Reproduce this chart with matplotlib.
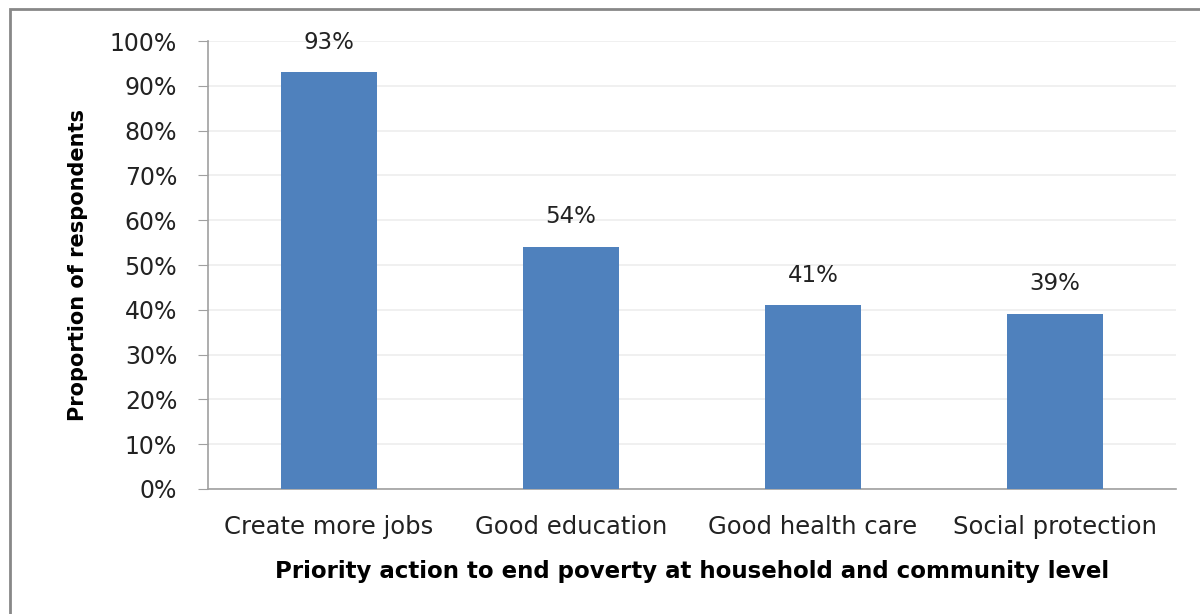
import matplotlib.pyplot as plt
from matplotlib.patches import Rectangle
import numpy as np

## data
categories = ['Create more jobs', 'Good education', 'Good health care', 'Social protection']
shares = [93, 54, 41, 39]
yticks = [0, 10, 20, 30, 40, 50, 60, 70, 80, 90, 100]

plt.rcParams['font.family'] = ['DejaVu Sans']

fig = plt.figure(figsize=(12, 6.14), dpi=100)
ax = fig.add_axes([0.1733, 0.2036, 0.8067, 0.7296])

x = np.arange(len(categories))
ax.bar(x, shares, width=0.4, color='#4f81bd', zorder=3)
for xi, v in zip(x, shares):
    ax.text(xi, v + 4.2, f'{v}%', ha='center', va='bottom', fontsize=16.5, color='#222222')

## axes
ax.set_xlim(-0.5, len(categories) - 0.5)
ax.set_ylim(0, 100)
ax.set_yticks(yticks)
ax.set_yticklabels([f'{t}%' for t in yticks], fontsize=17, color='#222222')
ax.set_xticks(x)
ax.set_xticklabels(categories, fontsize=17.5, color='#222222')
ax.tick_params(axis='x', length=0, pad=19)
ax.tick_params(axis='y', length=7.2, color='#a0a0a0', pad=15)
ax.grid(axis='y', color='#eeeeee', linewidth=1.2, zorder=0)
for s in ['top', 'right']:
    ax.spines[s].set_visible(False)
for s in ['left', 'bottom']:
    ax.spines[s].set_color('#a0a0a0')
    ax.spines[s].set_linewidth(1.2)

ax.set_ylabel('Proportion of respondents', fontsize=15, fontweight='bold', labelpad=16)
ax.set_xlabel('Priority action to end poverty at household and community level',
              fontsize=16.5, fontweight='bold', labelpad=15)

## outer frame
fig.patches.append(Rectangle((10 / 1200, -0.1), 1.2, 1 - 9 / 614 + 0.1,
                             transform=fig.transFigure, fill=False,
                             edgecolor='#888888', linewidth=2))

fig.savefig('out.png', dpi=100)
